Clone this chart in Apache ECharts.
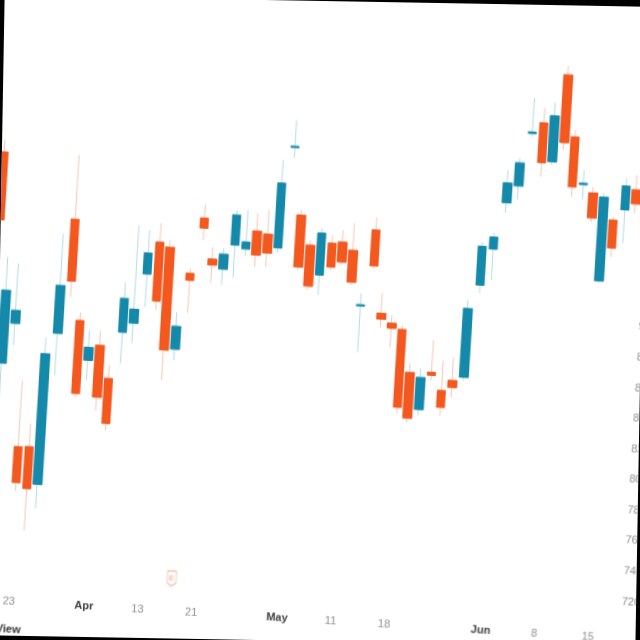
<!DOCTYPE html>
<html>
<head>
<meta charset="utf-8">
<script src="https://cdn.jsdelivr.net/npm/echarts@6/dist/echarts.min.js"></script>
<style>
  html, body { margin: 0; padding: 0; width: 640px; height: 640px; overflow: hidden; background: #000; }
  /* the photographed screen sits a little skewed on a black surround */
  #frame {
    position: absolute; left: -0.9px; top: 0.6px; width: 641.8px; height: 640.1px;
    background: #fff; overflow: hidden; transform: rotate(1deg); transform-origin: 50% 50%;
  }
  #chart {
    position: absolute; left: -59.1px; top: -60.6px; width: 760px; height: 760px;
    transform: rotate(2.5deg); transform-origin: 50% 50%;
  }
</style>
</head>
<body>
<div id="frame"><div id="chart"></div></div>
<script>
// trading days (NSE, 2020)
var dates = [
  '2020-03-18', '2020-03-19', '2020-03-20', '2020-03-23', '2020-03-24', '2020-03-25', '2020-03-26', '2020-03-27',
  '2020-03-30', '2020-03-31', '2020-04-01', '2020-04-03', '2020-04-07', '2020-04-08', '2020-04-09', '2020-04-13',
  '2020-04-15', '2020-04-16', '2020-04-17', '2020-04-20', '2020-04-21', '2020-04-22', '2020-04-23', '2020-04-24',
  '2020-04-27', '2020-04-28', '2020-04-29', '2020-04-30', '2020-05-04', '2020-05-05', '2020-05-06', '2020-05-07',
  '2020-05-08', '2020-05-11', '2020-05-12', '2020-05-13', '2020-05-14', '2020-05-15', '2020-05-18', '2020-05-19',
  '2020-05-20', '2020-05-21', '2020-05-22', '2020-05-26', '2020-05-27', '2020-05-28', '2020-05-29', '2020-06-01',
  '2020-06-02', '2020-06-03', '2020-06-04', '2020-06-05', '2020-06-08', '2020-06-09', '2020-06-10', '2020-06-11',
  '2020-06-12', '2020-06-15', '2020-06-16', '2020-06-17'
];

var openPrices = [
  988.9, 850.9, 877.4, 797.0, 797.5, 773.2, 872.6, 947.8, 881.9, 856.2,
  866.4, 845.2, 875.9, 882.2, 914.8, 936.2, 933.3, 866.9, 917.1, 953.7,
  927.2, 921.1, 937.3, 935.1, 947.3, 945.8, 937.1, 1003.4, 959.5, 940.2,
  921.1, 942.4, 943.5, 938.6, 902.5, 952.7, 898.6, 892.5, 888.9, 861.1,
  837.3, 862.1, 850.6, 857.6, 860.1, 920.9, 944.9, 975.7, 987.2, 1022.0,
  1029.4, 1004.3, 1061.7, 1021.4, 990.6, 985.6, 928.4, 968.7, 975.8, 989.3
];
var closePrices = [
  944.4, 898.7, 885.9, 773.5, 770.0, 858.8, 904.0, 907.2, 834.1, 864.7,
  832.4, 815.7, 898.1, 891.4, 928.6, 897.6, 865.9, 881.9, 912.5, 947.1,
  923.3, 930.9, 957.0, 939.7, 931.6, 933.3, 979.6, 1004.2, 925.5, 913.4,
  948.6, 926.7, 930.4, 917.7, 903.4, 929.2, 894.7, 889.2, 837.9, 831.1,
  858.3, 860.1, 839.5, 853.0, 905.2, 946.4, 952.8, 988.7, 1002.3, 1023.0,
  1003.3, 1034.4, 1017.3, 988.7, 991.6, 969.2, 983.3, 950.4, 991.5, 980.1
];
var lowPrices = [
  939.2, 828.7, 863.0, 768.3, 742.6, 757.5, 845.2, 896.8, 831.5, 843.1,
  823.9, 811.2, 855.6, 869.1, 893.3, 891.7, 846.3, 859.7, 891.0, 939.3,
  911.5, 910.6, 915.7, 930.5, 923.7, 924.2, 933.9, 996.6, 923.5, 910.8,
  908.0, 924.8, 928.4, 915.7, 872.3, 927.8, 889.5, 876.8, 833.9, 828.4,
  833.4, 856.8, 834.3, 846.5, 858.1, 915.7, 924.6, 969.1, 978.1, 1019.8,
  994.1, 1002.3, 1012.7, 982.2, 980.6, 966.6, 927.1, 944.5, 954.2, 974.2
];
var highPrices = [
  996.7, 920.3, 916.7, 840.2, 812.5, 869.3, 938.1, 989.7, 887.1, 875.8,
  876.2, 853.7, 908.6, 946.3, 943.6, 948.6, 937.9, 891.1, 920.4, 962.2,
  935.0, 934.8, 960.2, 960.6, 959.0, 961.5, 994.7, 1021.4, 962.8, 943.5,
  951.8, 947.7, 951.3, 956.3, 910.8, 961.2, 911.7, 897.7, 891.5, 867.0,
  864.1, 883.0, 870.2, 872.6, 910.4, 949.0, 955.4, 997.2, 1005.5, 1045.3,
  1039.2, 1042.9, 1067.6, 1026.0, 1000.2, 989.5, 985.9, 970.7, 996.7, 999.1
];

// time scale labels
var tickDates = ['2020-03-23', '2020-04-01', '2020-04-13', '2020-04-21', '2020-05-04',
  '2020-05-11', '2020-05-18', '2020-06-01', '2020-06-08', '2020-06-15'];
var tickLabels = ['23', 'Apr', '13', '21', 'May', '11', '18', 'Jun', '8', '15'];
var monthLabels = ['Apr', 'May', 'Jun'];

// earnings marker
var earningsDates = ['2020-04-17'];

var UP = '#1589aa', DOWN = '#f3581f';
var UP_WICK = '#b3dbe6', DOWN_WICK = '#f7c6b4';
var EVENT_LEVEL = 717;

var fullData = dates.map(function(d, i) {
  return [openPrices[i], closePrices[i], lowPrices[i], highPrices[i]];
});
// bodies only, drawn over the full candles so the wicks stay pale
var bodyData = dates.map(function(d, i) {
  var o = openPrices[i], c = closePrices[i];
  return [o, c, Math.min(o, c), Math.max(o, c)];
});

var myChart = echarts.init(document.getElementById('chart'));
myChart.setOption({
  animation: false,
  textStyle: { fontFamily: 'Liberation Sans, Arial, sans-serif' },
  grid: { left: 49, right: 66.6, top: 61.6, bottom: 86.8 },
  xAxis: {
    type: 'category',
    data: dates,
    axisLine: { show: false },
    axisTick: { show: false },
    splitLine: { show: false },
    axisLabel: {
      margin: 1,
      interval: function(index, value) { return tickDates.indexOf(value) >= 0; },
      formatter: function(value) {
        var t = tickLabels[tickDates.indexOf(value)];
        return monthLabels.indexOf(t) >= 0 ? '{m|' + t + '}' : '{d|' + t + '}';
      },
      rich: {
        m: { fontSize: 11, fontWeight: 'bold', color: '#3c3c3c' },
        d: { fontSize: 11, color: '#8e8e8e' }
      }
    }
  },
  yAxis: {
    type: 'value',
    position: 'right',
    min: 700,
    max: 1100,
    interval: 20,
    axisLine: { show: false },
    axisTick: { show: false },
    splitLine: { show: false },
    axisLabel: { margin: 5, fontSize: 11, color: '#8e8e8e', showMinLabel: false, showMaxLabel: false }
  },
  graphic: [{
    type: 'text',
    right: 660,
    top: 702,
    style: { text: 'TradingView', fill: '#333', font: 'bold 11px Liberation Sans, Arial, sans-serif' }
  }],
  series: [
    {
      name: 'wicks',
      type: 'candlestick',
      barWidth: 9,
      data: fullData,
      itemStyle: { color: UP_WICK, color0: DOWN_WICK, borderColor: UP_WICK, borderColor0: DOWN_WICK, borderWidth: 1 }
    },
    {
      name: 'bodies',
      type: 'candlestick',
      barWidth: 9,
      data: bodyData,
      itemStyle: { color: UP, color0: DOWN, borderColor: UP, borderColor0: DOWN, borderWidth: 1 }
    },
    {
      name: 'earnings',
      type: 'scatter',
      symbol: 'path://M0,0 L10,0 L10,14 L5,18 L0,14 Z',
      symbolSize: [9, 15],
      itemStyle: { color: '#fff', borderColor: '#f1a48c', borderWidth: 1 },
      label: { show: true, position: 'inside', formatter: 'E', fontSize: 8, color: '#ef7a56' },
      data: earningsDates.map(function(d) { return [d, EVENT_LEVEL]; })
    }
  ]
});
</script>
</body>
</html>
